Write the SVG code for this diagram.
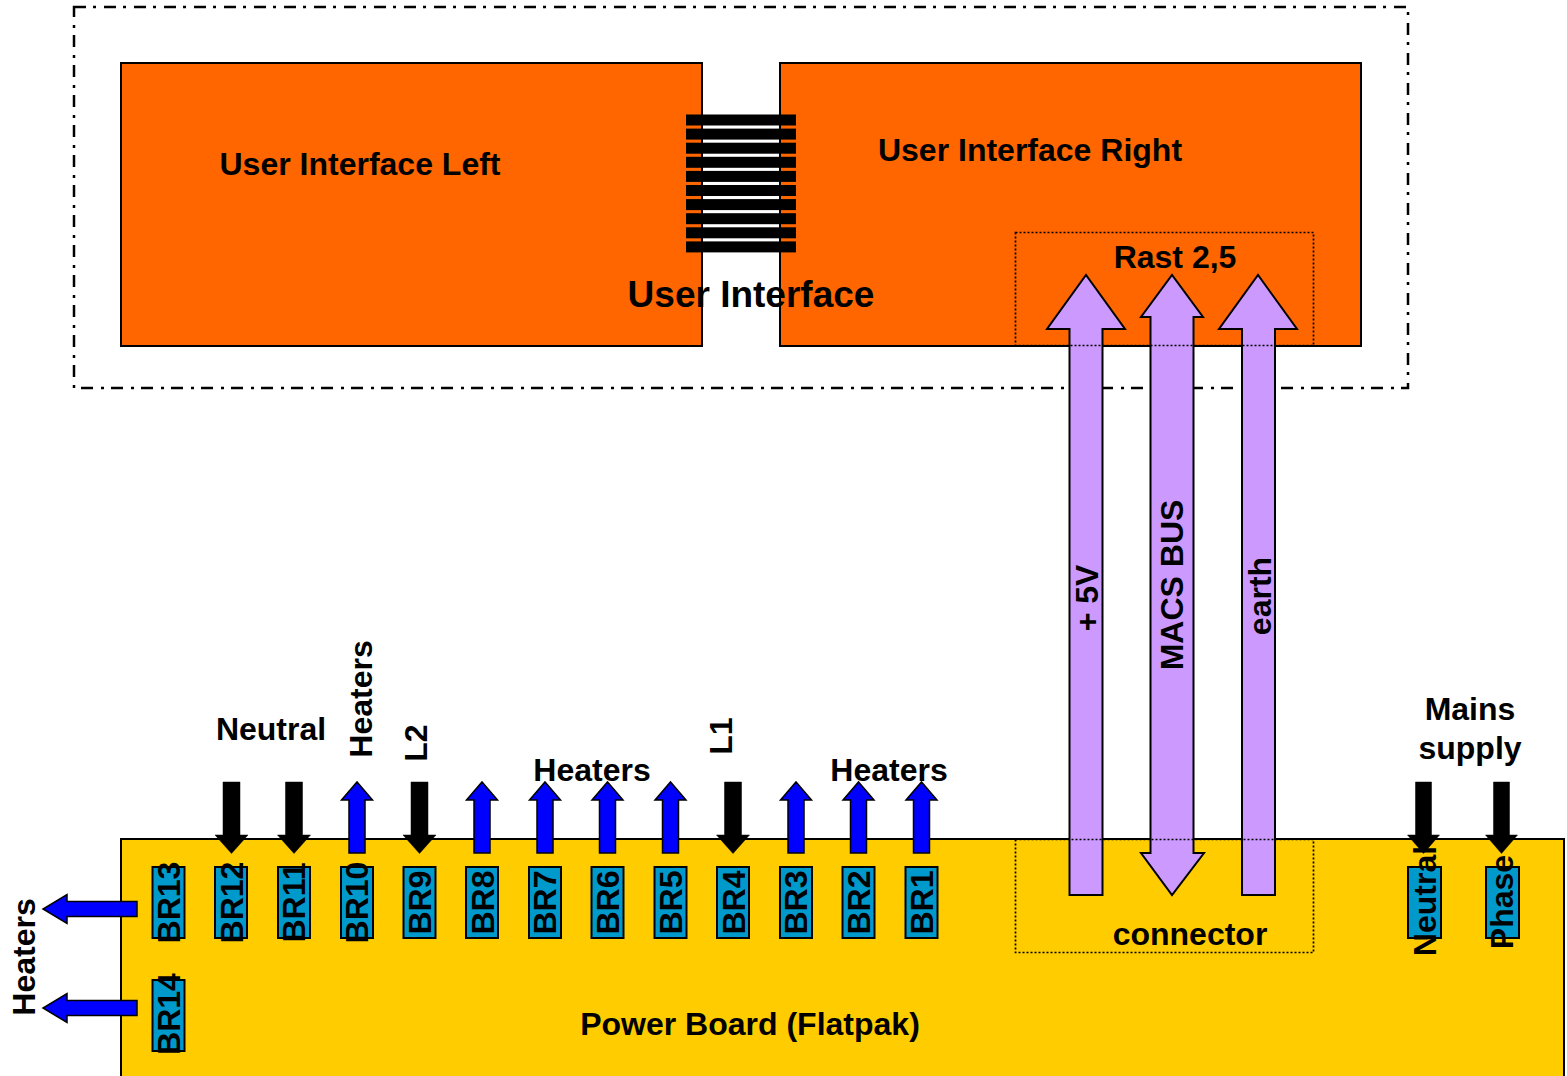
<svg xmlns="http://www.w3.org/2000/svg" width="1567" height="1076" viewBox="0 0 1567 1076">
<style>
text{font-family:"Liberation Sans",Arial,sans-serif;font-weight:bold;fill:#000;font-size:32px;text-anchor:middle}
.orange{fill:#FF6600;stroke:#000;stroke-width:2}
.board{fill:#FFCC00;stroke:#000;stroke-width:2}
.br{fill:#0099CC;stroke:#000;stroke-width:2}
.bar{fill:#000}
.dots{fill:none;stroke:#000;stroke-width:1.7;stroke-dasharray:2 2}
.frame{fill:none;stroke:#000;stroke-width:2.5;stroke-dasharray:12 7 3 8}
.purple{fill:#CC99FF;stroke:#000;stroke-width:2}
.blue{fill:#0000FF;stroke:#000;stroke-width:1.5}
.black{fill:#000;stroke:#000;stroke-width:0.5}
</style>
<defs>
<path id="dn" class="black" d="M-8.500 0H8.500V53H16.500L0 71.500L-16.500 53H-8.500Z"/>
<path id="dn2" class="black" d="M-8 0H8V53H16L0 71.500L-16 53H-8Z"/>
<path id="up" class="blue" d="M-8 71H8V18H15.500L0 0L-15.500 18H-8Z"/>
<path id="lf" class="blue" d="M94 -7.500V7.500H24V14.500L0 0L24 -14.500V-7.500Z"/>
<rect id="b" class="br" x="-16" y="0" width="32" height="71"/>
</defs>
<rect class="frame" x="74" y="7" width="1334" height="381"/>
<g id="ui-left"><rect class="orange" x="121" y="63" width="581" height="283"/><text x="360" y="175">User Interface Left</text></g>
<g id="ui-right"><rect class="orange" x="780" y="63" width="581" height="283"/><text x="1030" y="161">User Interface Right</text></g>
<g id="ribbon">
<rect class="bar" x="686" y="114.500" width="110" height="11"/>
<rect class="bar" x="686" y="128.600" width="110" height="11"/>
<rect class="bar" x="686" y="142.700" width="110" height="11"/>
<rect class="bar" x="686" y="156.800" width="110" height="11"/>
<rect class="bar" x="686" y="170.900" width="110" height="11"/>
<rect class="bar" x="686" y="185" width="110" height="11"/>
<rect class="bar" x="686" y="199.100" width="110" height="11"/>
<rect class="bar" x="686" y="213.200" width="110" height="11"/>
<rect class="bar" x="686" y="227.300" width="110" height="11"/>
<rect class="bar" x="686" y="241.400" width="110" height="11"/>
</g>
<g id="power-board"><rect class="board" x="121" y="839" width="1443" height="240"/><text x="750" y="1035">Power Board (Flatpak)</text></g>
<g id="connectors">
<path class="purple" d="M1069.500 895V329H1047L1086 275L1125 329H1102.500V895Z"/>
<path class="purple" d="M1150.500 853V317H1141L1172 275L1203 317H1193.500V853H1204L1172 895L1141 853Z"/>
<path class="purple" d="M1242 895V329H1219L1258 275L1297 329H1275V895Z"/>
<use href="#lf" x="43" y="909"/>
<use href="#lf" x="43" y="1008"/>
<use href="#dn" x="231.500" y="782"/>
<use href="#dn" x="294" y="782"/>
<use href="#up" x="357" y="782"/>
<use href="#dn" x="419.500" y="782"/>
<use href="#up" x="482" y="782"/>
<use href="#up" x="545" y="782"/>
<use href="#up" x="607.500" y="782"/>
<use href="#up" x="670.500" y="782"/>
<use href="#dn" x="733" y="782"/>
<use href="#up" x="796" y="782"/>
<use href="#up" x="858.500" y="782"/>
<use href="#up" x="921.500" y="782"/>
<use href="#dn2" x="1423.500" y="782"/>
<use href="#dn2" x="1501.500" y="782"/>
</g>
<g id="rast"><rect class="dots" x="1015.500" y="232.500" width="298" height="113"/><text x="1175" y="268">Rast 2,5</text></g>
<g id="conn"><rect class="dots" x="1015.500" y="839.500" width="298" height="113"/><text x="1190" y="945">connector</text></g>
<g id="br13"><use href="#b" x="168.500" y="867"/><text transform="translate(179.500 902.500) rotate(-90)">BR13</text></g>
<g id="br12"><use href="#b" x="231" y="867"/><text transform="translate(242.500 902.500) rotate(-90)">BR12</text></g>
<g id="br11"><use href="#b" x="294" y="867"/><text transform="translate(305 902.500) rotate(-90)">BR11</text></g>
<g id="br10"><use href="#b" x="357" y="867"/><text transform="translate(368 902.500) rotate(-90)">BR10</text></g>
<g id="br9"><use href="#b" x="419.500" y="867"/><text transform="translate(431 902.500) rotate(-90)">BR9</text></g>
<g id="br8"><use href="#b" x="482" y="867"/><text transform="translate(493.500 902.500) rotate(-90)">BR8</text></g>
<g id="br7"><use href="#b" x="545" y="867"/><text transform="translate(556 902.500) rotate(-90)">BR7</text></g>
<g id="br6"><use href="#b" x="607.500" y="867"/><text transform="translate(619 902.500) rotate(-90)">BR6</text></g>
<g id="br5"><use href="#b" x="670.500" y="867"/><text transform="translate(682 902.500) rotate(-90)">BR5</text></g>
<g id="br4"><use href="#b" x="733" y="867"/><text transform="translate(744.500 902.500) rotate(-90)">BR4</text></g>
<g id="br3"><use href="#b" x="796" y="867"/><text transform="translate(807 902.500) rotate(-90)">BR3</text></g>
<g id="br2"><use href="#b" x="858.500" y="867"/><text transform="translate(870 902.500) rotate(-90)">BR2</text></g>
<g id="br1"><use href="#b" x="921.500" y="867"/><text transform="translate(932.500 902.500) rotate(-90)">BR1</text></g>
<g id="br14"><use href="#b" x="168.500" y="980"/><text transform="translate(179.500 1014) rotate(-90)">BR14</text></g>
<g id="neutral-terminal"><rect class="br" x="1408" y="867" width="33" height="71"/><text transform="translate(1435.500 901) rotate(-90)">Neutral</text></g>
<g id="phase-terminal"><rect class="br" x="1486" y="867" width="33" height="71"/><text transform="translate(1513 902) rotate(-90)">Phase</text></g>
<g id="labels">
<text x="751" y="307" style="font-size:37px">User Interface</text>
<text transform="translate(1098 598) rotate(-90)">+ 5V</text>
<text transform="translate(1183 585) rotate(-90)">MACS BUS</text>
<text transform="translate(1271 596) rotate(-90)">earth</text>
<text x="271" y="740">Neutral</text>
<text transform="translate(372 699) rotate(-90)">Heaters</text>
<text transform="translate(427 743) rotate(-90)">L2</text>
<text x="592" y="781">Heaters</text>
<text transform="translate(732 736) rotate(-90)">L1</text>
<text x="889" y="781">Heaters</text>
<text x="1470" y="720">Mains</text>
<text x="1470" y="759">supply</text>
<text transform="translate(35 957) rotate(-90)">Heaters</text>
</g>
</svg>
